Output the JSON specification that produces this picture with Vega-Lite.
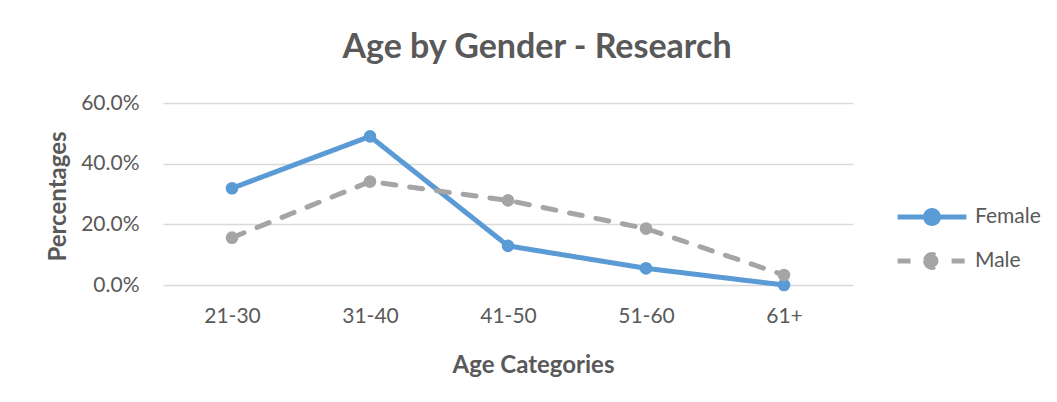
{
  "$schema": "https://vega.github.io/schema/vega-lite/v6.json",
  "autosize": "none",
  "width": 690,
  "height": 182,
  "padding": {"left": 163, "top": 103, "right": 204, "bottom": 117},
  "background": "white",
  "config": {
    "view": {"stroke": null},
    "font": "Lato",
    "axis": {"labelFont": "Lato", "titleFont": "Lato", "labelColor": "#595959", "titleColor": "#595959", "gridColor": "#D9D9D9", "gridWidth": 1.5, "domain": false, "ticks": false, "tickSize": 0},
    "legend": {"labelFont": "Lato", "labelColor": "#595959"}
  },
  "title": {
    "text": "Age by Gender - Research",
    "fontSize": 34,
    "fontWeight": "bold",
    "color": "#595959",
    "font": "Lato",
    "anchor": "middle",
    "dx": 29,
    "offset": 27
  },
  "data": {
    "values": [
      {"age": "21-30", "gender": "Female", "pct": 0.319},
      {"age": "31-40", "gender": "Female", "pct": 0.490},
      {"age": "41-50", "gender": "Female", "pct": 0.129},
      {"age": "51-60", "gender": "Female", "pct": 0.055},
      {"age": "61+", "gender": "Female", "pct": 0.0},
      {"age": "21-30", "gender": "Male", "pct": 0.156},
      {"age": "31-40", "gender": "Male", "pct": 0.341},
      {"age": "41-50", "gender": "Male", "pct": 0.279},
      {"age": "51-60", "gender": "Male", "pct": 0.186},
      {"age": "61+", "gender": "Male", "pct": 0.033}
    ]
  },
  "encoding": {
    "x": {
      "field": "age", "type": "ordinal",
      "sort": ["21-30", "31-40", "41-50", "51-60", "61+"],
      "scale": {"type": "point", "padding": 0.5},
      "axis": {"title": "Age Categories", "labelAngle": 0, "labelFontSize": 21, "labelPadding": 20, "titleFontSize": 24, "titleFontWeight": "bold", "titleX": 370, "titleY": 87, "titleBaseline": "alphabetic", "grid": false}
    },
    "y": {
      "field": "pct", "type": "quantitative",
      "scale": {"domain": [0, 0.6], "nice": false},
      "axis": {"title": "Percentages", "format": ".1%", "values": [0, 0.2, 0.4, 0.6], "labelFontSize": 21, "labelPadding": 24, "titleFontSize": 24, "titleFontWeight": "bold", "titleX": -105, "titleY": 93, "titleAngle": -90, "titleBaseline": "middle", "titleAlign": "center"}
    },
    "color": {
      "field": "gender", "type": "nominal",
      "scale": {"domain": ["Female", "Male"], "range": ["#5B9BD5", "#A5A5A5"]}
    }
  },
  "layer": [
    {
      "mark": {"type": "line", "strokeWidth": 5, "strokeCap": "round"},
      "encoding": {
        "strokeDash": {
          "field": "gender", "type": "nominal",
          "scale": {"domain": ["Female", "Male"], "range": [[1, 0], [13, 14]]}
        },
        "color": {
          "field": "gender", "type": "nominal",
          "scale": {"domain": ["Female", "Male"], "range": ["#5B9BD5", "#A5A5A5"]},
          "legend": {
            "title": null,
            "orient": "none",
            "legendX": 745,
            "legendY": 90,
            "padding": 0,
            "rowPadding": 3,
            "labelFontSize": 21,
            "labelOffset": 19,
            "symbolType": "M-1.6,0L1.6,0M-0.3,0A0.3,0.3,0,1,0,0.3,0A0.3,0.3,0,1,0,-0.3,0Z",
            "symbolSize": 1849,
            "symbolStrokeWidth": 5,
            "encode": {"symbols": {"update": {"fill": {"scale": "color", "field": "value"}, "opacity": {"value": 1}}}}
          }
        }
      }
    },
    {
      "mark": {"type": "point", "filled": true, "size": 160, "opacity": 1, "shape": "circle"},
      "encoding": {
        "color": {"field": "gender", "type": "nominal", "legend": null}
      }
    }
  ]
}
